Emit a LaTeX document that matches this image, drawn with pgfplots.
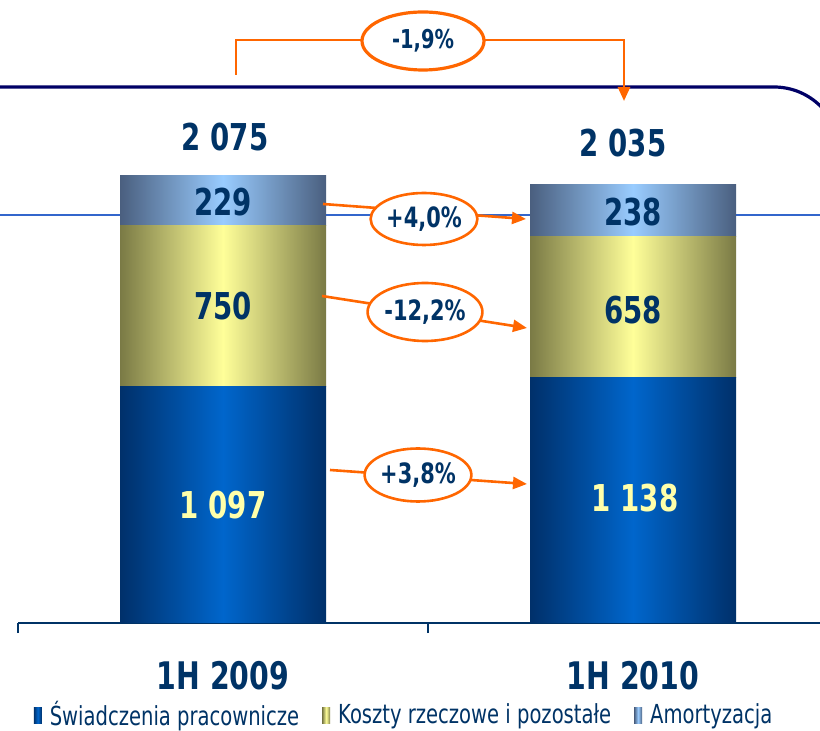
\documentclass[border=0pt]{standalone}
\usepackage{pgfplots}
\pgfplotsset{compat=1.18}
\usepackage{fontspec}
\setmainfont{DejaVu Sans Condensed}[FakeStretch=0.83]
\usetikzlibrary{arrows.meta,shapes.geometric}
\definecolor{navytxt}{HTML}{003366}
\definecolor{bdark}{HTML}{00306A}
\definecolor{bmid}{HTML}{0066CC}
\definecolor{ydark}{HTML}{7A7A45}
\definecolor{ymid}{HTML}{FFFF99}
\definecolor{ldark}{HTML}{4A5F7F}
\definecolor{lmid}{HTML}{99CCFF}
\definecolor{orng}{HTML}{FF6600}
\definecolor{topline}{HTML}{000066}
\definecolor{thinline}{HTML}{3366CC}
\definecolor{numy}{HTML}{FFFFAA}
\pgfplotsset{
  basegeom/.style={
    at={(9pt,-311.5pt)}, anchor=south west,
    scale only axis, width=410pt, height=311.5pt,
    xmin=-0.5, xmax=1.5, ymin=0, ymax=2893,
    ybar stacked, bar width=103pt, clip=false,
  },
  sblue/.style={draw=none, left color=bdark, right color=bdark, middle color=bmid},
  syel/.style={draw=none, left color=ydark, right color=ydark, middle color=ymid},
  slb/.style={draw=none, left color=ldark, right color=ldark, middle color=lmid},
}
\begin{document}
\begin{tikzpicture}
\useasboundingbox (0pt,0pt) rectangle (410pt,-365.5pt);
\begin{scope}[x=0.5pt,y=-0.5pt]
\draw[thinline, line width=0.7pt] (0,215) -- (820,215);
\draw[topline, line width=1.6pt, rounded corners=33pt] (0,87) -- (840,87) -- (840,400);
\end{scope}
% axis with 1H 2009 bar, axis line, ticks, legend
\begin{axis}[
  basegeom,
  axis y line=none, axis x line*=bottom,
  axis line style={draw=navytxt, line width=0.6pt},
  xtick={0,1}, xticklabels={1H 2009,1H 2010},
  major tick length=0pt,
  xticklabel style={font=\bfseries\fontsize{19}{21}\selectfont, text=navytxt, anchor=center, yshift=-26.5pt},
  extra x ticks={-0.5,0.5,1.5}, extra x tick labels={},
  extra x tick style={major tick length=5pt, tick align=outside, tick style={draw=navytxt, line width=0.6pt}},
  legend columns=3,
  legend style={at={(0.472,-0.148)}, anchor=center, draw=none, fill=none,
    font=\fontsize{13.1}{14}\selectfont, text=navytxt,
    /tikz/every odd column/.append style={column sep=2pt},
    /tikz/every even column/.append style={column sep=9.5pt}},
  legend image code/.code={\path[#1, draw=none] (0pt,-4pt) rectangle (4pt,4pt);},
]
\addplot[sblue] coordinates {(0,1097)};
\addplot[syel] coordinates {(0,750)};
\addplot[slb] coordinates {(0,229)};
\legend{Świadczenia pracownicze, Koszty rzeczowe i pozostałe, Amortyzacja}
\end{axis}
% axis with 1H 2010 bar (same geometry)
\begin{axis}[basegeom, hide axis]
\addplot[sblue] coordinates {(1,1138)};
\addplot[syel] coordinates {(1,658)};
\addplot[slb] coordinates {(1,238)};
\end{axis}
\begin{scope}[x=0.5pt,y=-0.5pt]
\begin{scope}[font=\bfseries\fontsize{18.5}{20}\selectfont, text=navytxt]
\node at (225,137) {2 075};
\node at (623,143) {2 035};
\node at (223,202) {229};
\node at (223,306) {750};
\node[text=numy] at (223,505) {1 097};
\node at (633,212) {238};
\node at (633,310) {658};
\node[text=numy] at (635,498) {1 138};
\end{scope}
\begin{scope}[orng, line width=1.3pt]
\draw (236,75) -- (236,40) -- (362,40);
\draw[-{Triangle[length=7pt,width=6pt]}] (485,40) -- (624,40) -- (624,101);
\node[draw, ellipse, line width=1.6pt, fill=white, minimum width=61pt, minimum height=29pt, inner sep=0pt, text=navytxt, font=\bfseries\fontsize{13}{14}\selectfont] at (423,41) {-1,9\%};
\draw[-{Triangle[length=7pt,width=6pt]}] (323,204) -- (526,219);
\node[draw, ellipse, line width=1.3pt, fill=white, minimum width=45.5pt, minimum height=26pt, inner sep=0pt, text=navytxt, font=\bfseries\fontsize{14}{16}\selectfont] at (424,219) {+4,0\%};
\draw[-{Triangle[length=7pt,width=6pt]}] (322,296) -- (527,328);
\node[draw, ellipse, line width=1.3pt, fill=white, minimum width=47pt, minimum height=29pt, inner sep=0pt, text=navytxt, font=\bfseries\fontsize{14}{16}\selectfont] at (425,312) {-12,2\%};
\draw[-{Triangle[length=7pt,width=6pt]}] (330,470) -- (527,484);
\node[draw, ellipse, line width=1.3pt, fill=white, minimum width=45pt, minimum height=26.5pt, inner sep=0pt, text=navytxt, font=\bfseries\fontsize{14}{16}\selectfont] at (418,475) {+3,8\%};
\end{scope}
\end{scope}
\end{tikzpicture}
\end{document}
